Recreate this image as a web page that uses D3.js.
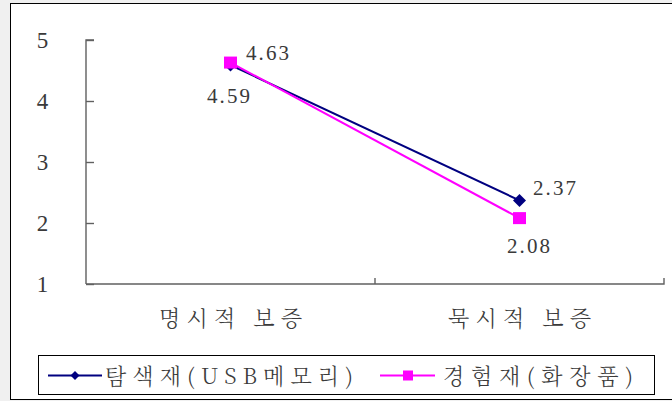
<!DOCTYPE html>
<html><head><meta charset="utf-8">
<script src="https://cdn.jsdelivr.net/npm/d3@7"></script>
<style>
html,body{margin:0;padding:0;background:#fff;}
svg{display:block;}
text{font-family:'Noto Serif CJK KR','Liberation Serif',serif;font-weight:300;}
text.num{font-family:'Liberation Serif','Noto Serif CJK KR',serif;font-weight:400;}
</style></head>
<body>
<svg id="c" width="672" height="401"></svg>
<script>
const categories = ["명시적 보증", "묵시적 보증"];
const seriesNames = ["탐색재(USB메모리)", "경험재(화장품)"];
const searchGoods = [4.59, 2.37];
const experienceGoods = [4.63, 2.08];
const yTicks = [1, 2, 3, 4, 5];

const svg = d3.select("#c");
const W = 672, H = 401;
const txt = "#3a3a3a";

svg.append("rect").attr("x",0).attr("y",0).attr("width",W).attr("height",H).attr("fill","#f0f0f0");
svg.append("rect").attr("x",10.5).attr("y",3.5).attr("width",W+10).attr("height",396).attr("fill","#fff").attr("stroke","#000").attr("stroke-width",1);

const x0 = 86, x1 = 664, yTop = 40, yBot = 284;
const x = d3.scaleBand().domain(categories).range([x0, x1]);
const y = d3.scaleLinear().domain([1, 5]).range([yBot, yTop]);
const axisCol = "#606060";

// y axis
const yAxis = svg.append("g").attr("transform", `translate(${x0},0)`)
  .call(d3.axisRight(y).tickValues(yTicks).tickSize(8).tickFormat(""));
yAxis.selectAll("path,line").attr("stroke", axisCol).attr("stroke-width", 1.4);
yAxis.select(".domain").attr("d", `M8,${yTop}H0V${yBot}`);
svg.selectAll(".ylab").data(yTicks).enter().append("text").attr("class","num")
  .attr("x", 42.5).attr("y", d => y(d) + 8)
  .attr("text-anchor", "middle").style("font-size", "23px")
  .attr("fill", txt).text(d => d);

// x axis
const xAxis = svg.append("g").attr("transform", `translate(0,${yBot})`)
  .call(d3.axisTop(x).tickSize(0).tickFormat(""));
xAxis.select(".domain").attr("d", `M${x0},0H${x1}V-6`).attr("stroke", axisCol).attr("stroke-width", 1.4).attr("fill","none");
svg.append("line").attr("x1", x(categories[1])).attr("x2", x(categories[1]))
  .attr("y1", yBot).attr("y2", yBot - 6).attr("stroke", axisCol).attr("stroke-width", 1.4);

svg.selectAll(".xlab").data(categories).enter().append("text")
  .attr("x", d => x(d) + x.bandwidth() / 2 - 71.5).attr("y", 326)
  .style("font-size", "22px")
  .attr("fill", txt).attr("textLength", 143).attr("lengthAdjust", "spacing").text(d => d);

const cx = d => x(d) + x.bandwidth() / 2;
const line = d3.line().x((d, i) => cx(categories[i])).y(d => y(d));

const navy = "#000080", mag = "#ff00ff";
svg.append("path").datum(searchGoods).attr("d", line).attr("fill", "none").attr("stroke", navy).attr("stroke-width", 2);
svg.append("path").datum(experienceGoods).attr("d", line).attr("fill", "none").attr("stroke", mag).attr("stroke-width", 2);

const diamond = (s) => `M0,${-s}L${s},0L0,${s}L${-s},0Z`;
svg.selectAll(".dm").data(searchGoods).enter().append("path")
  .attr("transform", (d, i) => `translate(${cx(categories[i])},${y(d)})`)
  .attr("d", diamond(6.5)).attr("fill", navy);
svg.selectAll(".sq").data(experienceGoods).enter().append("rect")
  .attr("x", (d, i) => cx(categories[i]) - 6.5).attr("y", d => y(d) - 6)
  .attr("width", 13).attr("height", 12).attr("fill", mag);

// data labels (offsets relative to point: label start x, baseline y)
const labels = [
  {v: searchGoods[0], i: 0, dx: -23.5, dy: 38},
  {v: experienceGoods[0], i: 0, dx: 15.5, dy: -3},
  {v: searchGoods[1], i: 1, dx: 13.5, dy: -5.5},
  {v: experienceGoods[1], i: 1, dx: -12.5, dy: 35}
];
labels.forEach(l => {
  const px = cx(categories[l.i]), py = y(l.v);
  svg.append("text").attr("class","num").attr("x", px + l.dx).attr("y", py + l.dy)
    .style("font-size", "21px").attr("fill", txt)
    .attr("textLength", 43).attr("lengthAdjust", "spacing").text(l.v.toFixed(2));
});

// legend
const lg = svg.append("g");
lg.append("rect").attr("x", 38.5).attr("y", 355.5).attr("width", 616).attr("height", 39)
  .attr("fill", "#fff").attr("stroke", "#000").attr("stroke-width", 1);
const ly = 375.5;
lg.append("line").attr("x1", 48).attr("x2", 102).attr("y1", ly).attr("y2", ly).attr("stroke", navy).attr("stroke-width", 2);
lg.append("path").attr("transform", `translate(75,${ly})`).attr("d", diamond(4.5)).attr("fill", navy);
lg.append("text").attr("x", 105).attr("y", 384).style("font-size", "22px")
  .attr("fill", txt).attr("textLength", 248).attr("lengthAdjust", "spacing").text(seriesNames[0]);
lg.append("line").attr("x1", 380).attr("x2", 435).attr("y1", ly).attr("y2", ly).attr("stroke", mag).attr("stroke-width", 2);
lg.append("rect").attr("x", 403).attr("y", ly - 5).attr("width", 10).attr("height", 10).attr("fill", mag);
lg.append("text").attr("x", 443).attr("y", 384).style("font-size", "22px")
  .attr("fill", txt).attr("textLength", 190).attr("lengthAdjust", "spacing").text(seriesNames[1]);
</script>
</body></html>
